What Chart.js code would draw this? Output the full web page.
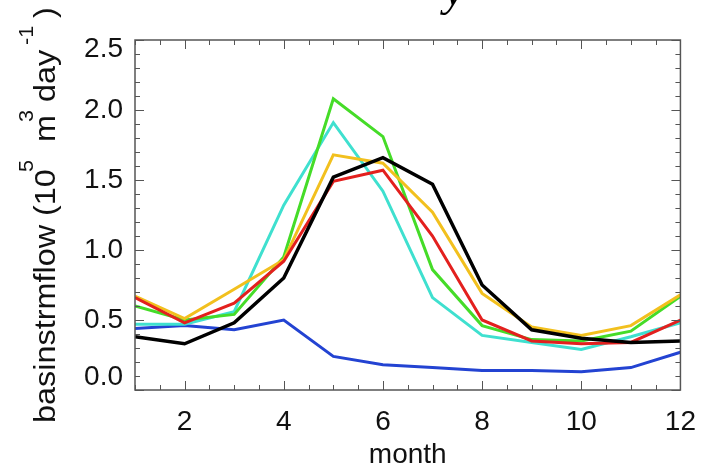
<!DOCTYPE html>
<html>
<head>
<meta charset="utf-8">
<script src="https://cdn.jsdelivr.net/npm/chart.js@4.4.1/dist/chart.umd.min.js"></script>
<style>
  html, body { margin: 0; padding: 0; background: #fff; }
  #wrap { width: 711px; height: 469px; position: relative; }
</style>
</head>
<body>
<div id="wrap"><canvas id="c"></canvas></div>
<script>
// monthly basin streamflow, 10^5 m3/day
const MONTHS = [1, 2, 3, 4, 5, 6, 7, 8, 9, 10, 11, 12];
const X_TICKS = [2, 4, 6, 8, 10, 12];
const Y_TICKS = [0, 0.5, 1.0, 1.5, 2.0, 2.5];

const blackVals  = [0.38, 0.33, 0.48, 0.80, 1.52, 1.66, 1.47, 0.75, 0.43, 0.37, 0.34, 0.35];
const redVals    = [0.66, 0.48, 0.62, 0.92, 1.49, 1.57, 1.10, 0.50, 0.35, 0.33, 0.34, 0.50];
const orangeVals = [0.67, 0.51, 0.72, 0.93, 1.68, 1.62, 1.27, 0.69, 0.45, 0.39, 0.46, 0.68];
const greenVals  = [0.60, 0.50, 0.54, 0.95, 2.08, 1.81, 0.86, 0.46, 0.36, 0.35, 0.42, 0.67];
const cyanVals   = [0.47, 0.47, 0.56, 1.32, 1.91, 1.42, 0.66, 0.39, 0.34, 0.29, 0.38, 0.48];
const blueVals   = [0.44, 0.46, 0.43, 0.50, 0.24, 0.18, 0.16, 0.14, 0.14, 0.13, 0.16, 0.27];

const SERIES = [
  { vals: blackVals,  color: '#000000', w: 3.5 },
  { vals: redVals,    color: '#e3201e', w: 3 },
  { vals: orangeVals, color: '#f2c01e', w: 3 },
  { vals: greenVals,  color: '#45dc28', w: 3 },
  { vals: cyanVals,   color: '#3fe0cf', w: 3 },
  { vals: blueVals,   color: '#2343d2', w: 3 },
];

Chart.defaults.font.family = '"Liberation Sans", Arial, sans-serif';
Chart.defaults.color = '#111';

// box with inward ticks on all four sides, plus the rotated y title with superscripts
const frame = {
  id: 'frame',
  afterDatasetsDraw(chart) {
    const { ctx, chartArea: a, scales: { x, y } } = chart;
    ctx.save();
    ctx.strokeStyle = '#555';
    ctx.lineWidth = 1;
    ctx.beginPath();
    for (let v = 1; v <= 12; v += 0.5) {
      const px = Math.round(x.getPixelForValue(v)) + 0.5;
      const len = v % 2 === 0 ? 9 : 5;
      ctx.moveTo(px, a.bottom); ctx.lineTo(px, a.bottom - len);
      ctx.moveTo(px, a.top); ctx.lineTo(px, a.top + len);
    }
    for (let i = 0; i <= 25; i++) {
      const py = Math.round(y.getPixelForValue(i / 10)) + 0.5;
      const len = i % 5 === 0 ? 9 : 5;
      ctx.moveTo(a.left, py); ctx.lineTo(a.left + len, py);
      ctx.moveTo(a.right, py); ctx.lineTo(a.right - len, py);
    }
    ctx.stroke();
    ctx.lineWidth = 1.5;
    ctx.strokeRect(a.left, a.top, a.right - a.left, a.bottom - a.top);
    ctx.restore();
  },
  afterDraw(chart) {
    const ctx = chart.ctx;
    ctx.save();
    ctx.fillStyle = '#111';
    ctx.textBaseline = 'alphabetic';
    ctx.textAlign = 'left';
    ctx.translate(55, 0);
    ctx.rotate(-Math.PI / 2);
    const main = '30px "Liberation Sans", Arial, sans-serif';
    const sup = '20px "Liberation Sans", Arial, sans-serif';
    const parts = [
      ['basinstrmflow (10', main, 423, 0],
      ['5', sup, 172, -22],
      ['m', main, 142, 0],
      ['3', sup, 122, -22],
      ['day', main, 102, 0],
      ['-1', sup, 45, -22],
      [')', main, 18, 0],
    ];
    parts.forEach(([t, f, start, off]) => {
      ctx.save();
      ctx.font = f;
      ctx.translate(-start, off);
      ctx.scale(1.08, 1);
      ctx.fillText(t, 0, 0);
      ctx.restore();
    });
    ctx.restore();
    // clipped panel title above the plot
    ctx.save();
    ctx.fillStyle = '#000';
    ctx.font = 'italic 46px "Liberation Serif", serif';
    ctx.fillText('y', 444, 5);
    ctx.restore();
  }
};

// end labels sit inside the box, like the reference
const yLabel = v => {
  const s = v.toFixed(1);
  if (v === 2.5) return ['', s];
  if (v === 0) return [s, ''];
  return s;
};

new Chart(document.getElementById('c'), {
  type: 'line',
  data: {
    datasets: SERIES.map(s => ({
      data: MONTHS.map((m, i) => ({ x: m, y: s.vals[i] })),
      borderColor: s.color,
      borderWidth: s.w,
      pointRadius: 0,
      tension: 0,
      fill: false,
    })),
  },
  options: {
    responsive: true,
    maintainAspectRatio: false,
    animation: false,
    layout: { padding: { top: 40, right: 29, left: 0, bottom: 0 } },
    plugins: { legend: { display: false }, tooltip: { enabled: false } },
    scales: {
      x: {
        type: 'linear', min: 1, max: 12,
        afterBuildTicks: ax => { ax.ticks = X_TICKS.map(v => ({ value: v })); },
        afterFit: ax => { ax.height = 79; },
        grid: { display: false, drawTicks: false },
        border: { display: false },
        ticks: { font: { size: 28 }, padding: 15, maxRotation: 0 },
        title: { display: true, text: 'month', font: { size: 28 }, padding: { top: 0, bottom: -3 } },
      },
      y: {
        type: 'linear', min: 0, max: 2.5,
        afterBuildTicks: ax => { ax.ticks = Y_TICKS.map(v => ({ value: v })); },
        afterFit: ax => { ax.width = 135; },
        grid: { display: false, drawTicks: false },
        border: { display: false },
        ticks: {
          padding: 12,
          callback: yLabel,
          font: c => ({ size: 28, lineHeight: c.tick && c.tick.value === 2.5 ? 0.65 : (c.tick && c.tick.value === 0 ? 0.93 : 1.2) }),
        },
      },
    },
  },
  plugins: [frame],
});
</script>
</body>
</html>
